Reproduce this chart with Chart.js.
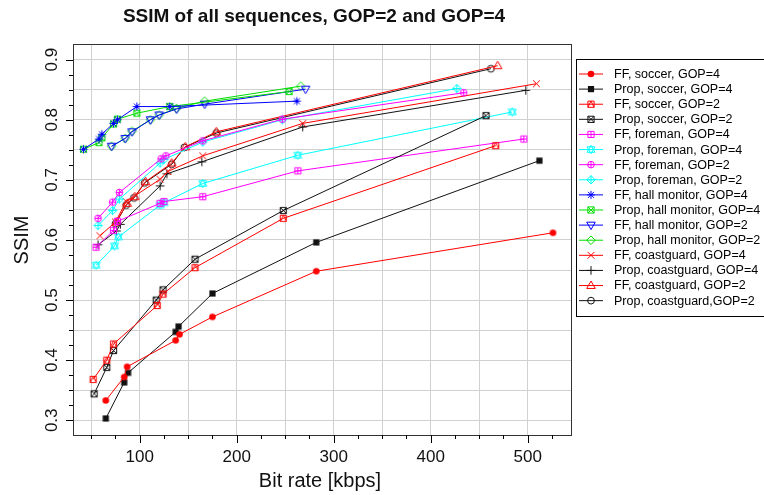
<!DOCTYPE html>
<html>
<head>
<meta charset="utf-8">
<script src="https://cdn.jsdelivr.net/npm/chart.js@4.4.0/dist/chart.umd.min.js"></script>
<style>
  html, body { margin: 0; padding: 0; background: #fff; }
  #wrap { width: 764px; height: 495px; }
</style>
</head>
<body>
<div id="wrap"><canvas id="ssimChart" width="764" height="495"></canvas></div>
<script>
// bit rate [kbps] and SSIM per curve
const ffSoccer4Rate = [65, 84, 87, 137, 141, 175, 282, 526];
const ffSoccer4Ssim = [0.333, 0.372, 0.389, 0.433, 0.443, 0.472, 0.548, 0.612];
const propSoccer4Rate = [65, 84, 88, 137, 140, 175, 282, 512];
const propSoccer4Ssim = [0.303, 0.363, 0.379, 0.447, 0.456, 0.511, 0.596, 0.732];
const ffSoccer2Rate = [52, 66, 73, 118, 124, 157, 248, 467];
const ffSoccer2Ssim = [0.368, 0.400, 0.427, 0.491, 0.510, 0.554, 0.636, 0.757];
const propSoccer2Rate = [53, 66, 73, 117, 124, 157, 248, 457];
const propSoccer2Ssim = [0.344, 0.388, 0.416, 0.500, 0.517, 0.568, 0.649, 0.807];
const ffForeman4Rate = [55, 73, 77, 121, 125, 165, 263, 496];
const ffForeman4Ssim = [0.588, 0.616, 0.631, 0.661, 0.664, 0.672, 0.715, 0.768];
const propForeman4Rate = [55, 74, 78, 121, 125, 165, 263, 484];
const propForeman4Ssim = [0.558, 0.590, 0.605, 0.658, 0.662, 0.694, 0.741, 0.813];
const ffForeman2Rate = [57, 72, 79, 122, 127, 165, 247, 434];
const ffForeman2Ssim = [0.636, 0.663, 0.679, 0.735, 0.740, 0.765, 0.801, 0.845];
const propForeman2Rate = [57, 72, 79, 121, 125, 165, 247, 427];
const propForeman2Ssim = [0.624, 0.649, 0.668, 0.728, 0.734, 0.763, 0.800, 0.852];
const ffHall4Rate = [42, 58, 61, 73, 77, 97, 131, 262];
const ffHall4Ssim = [0.751, 0.768, 0.776, 0.794, 0.800, 0.822, 0.822, 0.831];
const propHall4Rate = [42, 58, 61, 73, 77, 97, 131, 254];
const propHall4Ssim = [0.751, 0.762, 0.770, 0.793, 0.801, 0.811, 0.822, 0.847];
const ffHall2Rate = [71, 85, 92, 111, 120, 138, 167, 271];
const ffHall2Ssim = [0.756, 0.769, 0.780, 0.800, 0.808, 0.818, 0.826, 0.851];
const propHall2Rate = [71, 85, 92, 111, 120, 138, 167, 266];
const propHall2Ssim = [0.756, 0.769, 0.781, 0.800, 0.808, 0.819, 0.831, 0.856];
const ffCoast4Rate = [59, 75, 86, 121, 129, 165, 268, 509];
const ffCoast4Ssim = [0.607, 0.630, 0.664, 0.701, 0.714, 0.740, 0.794, 0.860];
const propCoast4Rate = [57, 76, 80, 121, 128, 164, 268, 498];
const propCoast4Ssim = [0.592, 0.615, 0.626, 0.690, 0.710, 0.730, 0.788, 0.849];
const ffCoast2Rate = [76, 87, 95, 106, 133, 147, 179, 469];
const ffCoast2Ssim = [0.630, 0.661, 0.672, 0.697, 0.728, 0.755, 0.780, 0.890];
const propCoast2Rate = [75, 86, 94, 105, 133, 146, 179, 462];
const propCoast2Ssim = [0.627, 0.658, 0.670, 0.695, 0.726, 0.754, 0.778, 0.885];

const seriesLabels = [
  'FF, soccer, GOP=4', 'Prop, soccer, GOP=4', 'FF, soccer, GOP=2', 'Prop, soccer, GOP=2',
  'FF, foreman, GOP=4', 'Prop, foreman, GOP=4', 'FF, foreman, GOP=2', 'Prop, foreman, GOP=2',
  'FF, hall monitor, GOP=4', 'Prop, hall monitor, GOP=4', 'FF, hall monitor, GOP=2', 'Prop, hall monitor, GOP=2',
  'FF, coastguard, GOP=4', 'Prop, coastguard, GOP=4', 'FF, coastguard, GOP=2', 'Prop, coastguard,GOP=2'
];
const seriesRates = [ffSoccer4Rate, propSoccer4Rate, ffSoccer2Rate, propSoccer2Rate,
  ffForeman4Rate, propForeman4Rate, ffForeman2Rate, propForeman2Rate,
  ffHall4Rate, propHall4Rate, ffHall2Rate, propHall2Rate,
  ffCoast4Rate, propCoast4Rate, ffCoast2Rate, propCoast2Rate];
const seriesSsims = [ffSoccer4Ssim, propSoccer4Ssim, ffSoccer2Ssim, propSoccer2Ssim,
  ffForeman4Ssim, propForeman4Ssim, ffForeman2Ssim, propForeman2Ssim,
  ffHall4Ssim, propHall4Ssim, ffHall2Ssim, propHall2Ssim,
  ffCoast4Ssim, propCoast4Ssim, ffCoast2Ssim, propCoast2Ssim];
const seriesColors = ['#ff0000', '#111111', '#ff0000', '#111111',
  '#ff00ff', '#00ffff', '#ff00ff', '#00ffff',
  '#0000ff', '#00dd00', '#0000ff', '#00dd00',
  '#ff0000', '#111111', '#ff0000', '#111111'];
const seriesMarkers = ['dot', 'block', 'squareTri', 'squareX',
  'squarePlus', 'starDavid', 'circlePlus', 'diamondPlus',
  'asterisk', 'squareX', 'triDown', 'diamond',
  'cross', 'plus', 'triUp', 'circle'];

const xTickLabels = [100, 200, 300, 400, 500];
const yTickLabels = [0.3, 0.4, 0.5, 0.6, 0.7, 0.8, 0.9];

// R-style plotting symbols
function drawMarker(ctx, kind, x, y, color) {
  const s = 3.1;
  ctx.save();
  ctx.strokeStyle = color;
  ctx.fillStyle = color;
  ctx.lineWidth = 1;
  ctx.beginPath();
  const square = () => ctx.rect(x - s, y - s, 2 * s, 2 * s);
  const plusLines = (r) => { ctx.moveTo(x - r, y); ctx.lineTo(x + r, y); ctx.moveTo(x, y - r); ctx.lineTo(x, y + r); };
  const xLines = (r) => { ctx.moveTo(x - r, y - r); ctx.lineTo(x + r, y + r); ctx.moveTo(x - r, y + r); ctx.lineTo(x + r, y - r); };
  const triUp = (r) => { ctx.moveTo(x, y - r); ctx.lineTo(x + r * 0.95, y + r * 0.65); ctx.lineTo(x - r * 0.95, y + r * 0.65); ctx.closePath(); };
  const triDown = (r) => { ctx.moveTo(x, y + r); ctx.lineTo(x + r * 0.95, y - r * 0.65); ctx.lineTo(x - r * 0.95, y - r * 0.65); ctx.closePath(); };
  const diamond = (r) => { ctx.moveTo(x, y - r); ctx.lineTo(x + r, y); ctx.lineTo(x, y + r); ctx.lineTo(x - r, y); ctx.closePath(); };
  switch (kind) {
    case 'dot': ctx.arc(x, y, s + 0.2, 0, Math.PI * 2); ctx.fill(); break;
    case 'block': ctx.rect(x - s, y - s, 2 * s, 2 * s); ctx.fill(); break;
    case 'squareTri': square(); ctx.moveTo(x - s, y + s); ctx.lineTo(x, y - s); ctx.lineTo(x + s, y + s); ctx.stroke(); break;
    case 'squareX': square(); xLines(s); ctx.stroke(); break;
    case 'squarePlus': square(); plusLines(s); ctx.stroke(); break;
    case 'starDavid': triUp(4.2); triDown(4.2); ctx.stroke(); break;
    case 'circlePlus': ctx.arc(x, y, s + 0.2, 0, Math.PI * 2); plusLines(s + 0.2); ctx.stroke(); break;
    case 'diamondPlus': diamond(4.2); plusLines(4.2); ctx.stroke(); break;
    case 'asterisk': plusLines(4); xLines(3); ctx.stroke(); break;
    case 'triDown': triDown(4.5); ctx.stroke(); break;
    case 'diamond': diamond(4.3); ctx.stroke(); break;
    case 'cross': xLines(3.4); ctx.stroke(); break;
    case 'plus': plusLines(4.3); ctx.stroke(); break;
    case 'triUp': triUp(4.5); ctx.stroke(); break;
    case 'circle': ctx.arc(x, y, s + 0.3, 0, Math.PI * 2); ctx.stroke(); break;
  }
  ctx.restore();
}

function markerCanvas(kind, color) {
  const c = document.createElement('canvas');
  c.width = 13; c.height = 13;
  drawMarker(c.getContext('2d'), kind, 6.5, 6.5, color);
  return c;
}

const datasets = seriesLabels.map((label, i) => ({
  label: label,
  data: seriesRates[i].map((r, k) => ({ x: r, y: seriesSsims[i][k] })),
  borderColor: seriesColors[i],
  backgroundColor: seriesColors[i],
  borderWidth: 1,
  pointStyle: markerCanvas(seriesMarkers[i], seriesColors[i]),
  pointRadius: 4,
  tension: 0
}));

const FONT = '"Liberation Sans", Arial, sans-serif';

const decor = {
  id: 'decor',
  beforeDraw(chart) {
    const ctx = chart.ctx;
    ctx.save();
    ctx.fillStyle = '#fff';
    ctx.fillRect(0, 0, chart.width, chart.height);
    ctx.restore();
  },
  afterDraw(chart) {
    const { ctx, chartArea: a, scales: { x, y } } = chart;
    ctx.save();
    // box
    ctx.strokeStyle = '#333';
    ctx.lineWidth = 1;
    ctx.strokeRect(a.left + 0.5, a.top + 0.5, a.right - a.left, a.bottom - a.top);

    // ticks
    ctx.strokeStyle = '#000';
    ctx.beginPath();
    for (let v = 50; v <= 525; v += 25) {
      const px = Math.round(x.getPixelForValue(v)) + 0.5;
      const len = v % 100 === 0 ? 8 : 4;
      ctx.moveTo(px, a.bottom); ctx.lineTo(px, a.bottom + len);
    }
    for (let v = 0.3; v <= 0.9001; v += 0.025) {
      const py = Math.round(y.getPixelForValue(v)) + 0.5;
      const major = Math.abs(Math.round(v * 10) - v * 10) < 1e-6;
      ctx.moveTo(a.left, py); ctx.lineTo(a.left - (major ? 7 : 4), py);
    }
    ctx.stroke();

    // tick labels
    ctx.fillStyle = '#111';
    ctx.font = '17px ' + FONT;
    ctx.textAlign = 'center';
    ctx.textBaseline = 'middle';
    xTickLabels.forEach(v => ctx.fillText(String(v), x.getPixelForValue(v), 457));
    yTickLabels.forEach(v => {
      ctx.save();
      ctx.translate(52.5, y.getPixelForValue(v));
      ctx.rotate(-Math.PI / 2);
      ctx.fillText(v.toFixed(1), 0, 0);
      ctx.restore();
    });

    // axis titles and main title
    ctx.font = '20px ' + FONT;
    ctx.fillText('Bit rate [kbps]', 320, 481);
    ctx.save();
    ctx.translate(22, 240);
    ctx.rotate(-Math.PI / 2);
    ctx.fillText('SSIM', 0, 0);
    ctx.restore();
    ctx.font = 'bold 19px ' + FONT;
    ctx.fillText('SSIM of all sequences, GOP=2 and GOP=4', 314, 17);

    // legend
    ctx.strokeStyle = '#000';
    ctx.strokeRect(576.5, 59.5, 200, 257);
    ctx.font = '12.5px ' + FONT;
    ctx.textAlign = 'left';
    chart.data.datasets.forEach((ds, i) => {
      const ly = 74 + i * 15.11;
      ctx.strokeStyle = seriesColors[i];
      ctx.beginPath();
      ctx.moveTo(579, ly); ctx.lineTo(603, ly);
      ctx.stroke();
      drawMarker(ctx, seriesMarkers[i], 591, ly, seriesColors[i]);
      ctx.fillStyle = '#000';
      ctx.fillText(ds.label, 614, ly + 0.5);
    });
    ctx.restore();
  }
};

new Chart(document.getElementById('ssimChart'), {
  type: 'line',
  data: { datasets: datasets },
  options: {
    responsive: false,
    animation: false,
    layout: { padding: { left: 0, right: 193, top: 44, bottom: 0 } },
    plugins: { legend: { display: false }, tooltip: { enabled: false }, title: { display: false } },
    scales: {
      x: {
        type: 'linear',
        min: 31.2,
        max: 544.6,
        afterFit: s => { s.height = 60; },
        afterBuildTicks: s => { s.ticks = [50, 100, 150, 200, 250, 300, 350, 400, 450, 500].map(v => ({ value: v })); },
        ticks: { display: false },
        grid: { color: '#d0d0d0', lineWidth: 1, drawTicks: false },
        border: { display: false }
      },
      y: {
        type: 'linear',
        min: 0.2755,
        max: 0.9261,
        afterFit: s => { s.width = 73; },
        afterBuildTicks: s => { s.ticks = [0.3, 0.35, 0.4, 0.45, 0.5, 0.55, 0.6, 0.65, 0.7, 0.75, 0.8, 0.85, 0.9].map(v => ({ value: v })); },
        ticks: { display: false },
        grid: { color: '#d0d0d0', lineWidth: 1, drawTicks: false },
        border: { display: false }
      }
    }
  },
  plugins: [decor]
});
</script>
</body>
</html>
